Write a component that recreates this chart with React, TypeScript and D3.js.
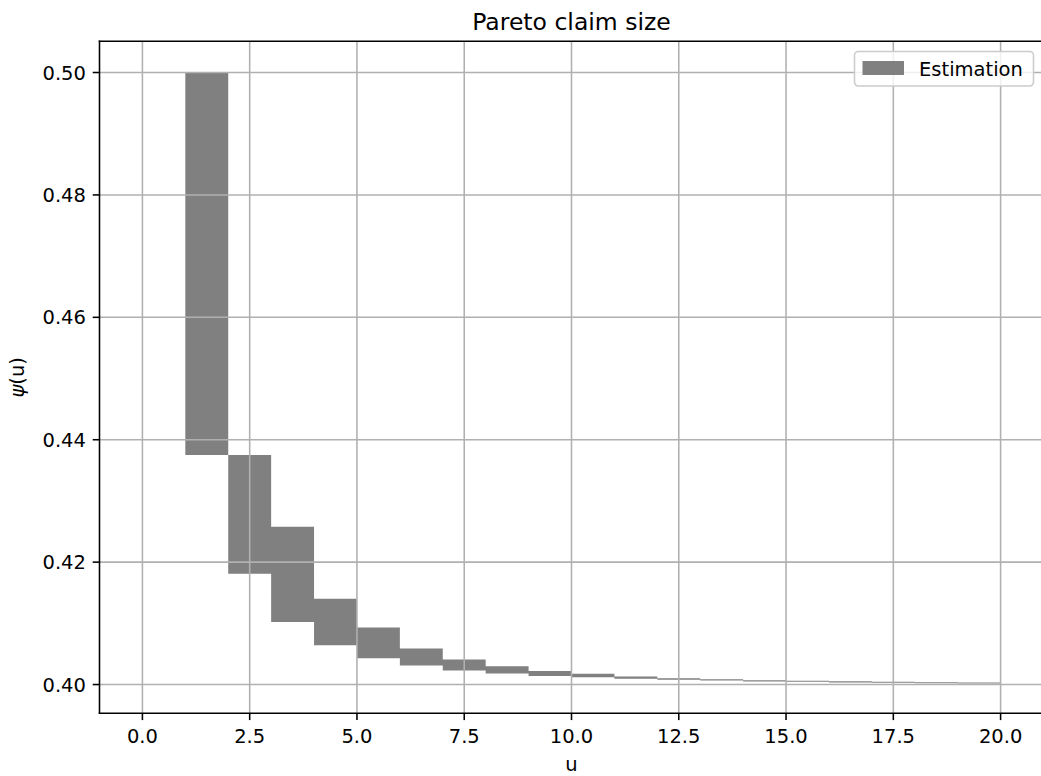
import React from "react";
import * as d3 from "d3";

const binStarts = [1, 2, 3, 4, 5, 6, 7, 8, 9, 10, 11, 12, 13, 14, 15, 16, 17, 18, 19];
const upperBound = [0.5, 0.4375, 0.4258, 0.414, 0.4093, 0.4059, 0.4041, 0.403, 0.4022, 0.40175, 0.4013, 0.40103, 0.40087, 0.4007, 0.4006, 0.40054, 0.40044, 0.40038, 0.40033];
const lowerBound = [0.4375, 0.4181, 0.4102, 0.4064, 0.4043, 0.4031, 0.4023, 0.4018, 0.4014, 0.4012, 0.40093, 0.40077, 0.40065, 0.40049, 0.40044, 0.40033, 0.40028, 0.40021, 0.40016];
const xEnd = 20;
const xTicks = [0, 2.5, 5, 7.5, 10, 12.5, 15, 17.5, 20];
const yTicks = [0.4, 0.42, 0.44, 0.46, 0.48, 0.5];
const title = "Pareto claim size";
const xLabel = "u";
const yLabelSymbol = "ψ";
const yLabelRest = "(u)";
const legendLabel = "Estimation";

const W = 1041;
const H = 776;
const FONT = "DejaVu Sans, sans-serif";
const FS = 19.5;

export default function App() {
  const left = 99.5, right = 1043.5, top = 41.3, bottom = 713.3;
  const x = d3.scaleLinear().domain([-1, 21]).range([left, right]);
  const y = d3.scaleLinear().domain([0.3953, 0.5051]).range([bottom, top]);

  const pts = binStarts.map((b, i) => ({ x: b, lo: lowerBound[i], hi: upperBound[i] }));
  const last = pts[pts.length - 1];
  pts.push({ x: xEnd, lo: last.lo, hi: last.hi });

  const area = d3
    .area<{ x: number; lo: number; hi: number }>()
    .x((d) => x(d.x))
    .y0((d) => y(d.lo))
    .y1((d) => y(d.hi))
    .curve(d3.curveStepAfter);

  const tickLen = 6.8;
  const grid = "#b0b0b0";

  return (
    <svg width={W} height={H} style={{ position: "absolute", left: 0, top: 0 }} fontFamily={FONT}>
      <rect x={0} y={0} width={W} height={H} fill="white" />
      <path d={area(pts) || ""} fill="#808080" stroke="none" />
      {xTicks.map((t) => (
        <line key={"gx" + t} x1={x(t)} x2={x(t)} y1={top} y2={bottom} stroke={grid} strokeWidth={1.56} />
      ))}
      {yTicks.map((t) => (
        <line key={"gy" + t} x1={left} x2={right} y1={y(t)} y2={y(t)} stroke={grid} strokeWidth={1.56} />
      ))}
      {/* spines */}
      <line x1={left} x2={left} y1={top} y2={bottom} stroke="black" strokeWidth={1.56} strokeLinecap="square" />
      <line x1={left} x2={right} y1={bottom} y2={bottom} stroke="black" strokeWidth={1.56} strokeLinecap="square" />
      <line x1={left} x2={right} y1={top} y2={top} stroke="black" strokeWidth={1.56} strokeLinecap="square" />
      <line x1={right} x2={right} y1={top} y2={bottom} stroke="black" strokeWidth={1.56} />
      {/* x ticks */}
      {xTicks.map((t) => (
        <g key={"xt" + t}>
          <line x1={x(t)} x2={x(t)} y1={bottom} y2={bottom + tickLen} stroke="black" strokeWidth={1.56} />
          <text x={x(t)} y={742.5} textAnchor="middle" fontSize={FS} fill="black">
            {t.toFixed(1)}
          </text>
        </g>
      ))}
      {/* y ticks */}
      {yTicks.map((t) => (
        <g key={"yt" + t}>
          <line x1={left - tickLen} x2={left} y1={y(t)} y2={y(t)} stroke="black" strokeWidth={1.56} />
          <text x={left - tickLen - 6.8} y={y(t)} dy="0.36em" textAnchor="end" fontSize={FS} fill="black">
            {t.toFixed(2)}
          </text>
        </g>
      ))}
      <text x={(left + right) / 2} y={29.5} textAnchor="middle" fontSize={23.5} fill="black">
        {title}
      </text>
      <text x={(left + right) / 2} y={770.5} textAnchor="middle" fontSize={FS} fill="black">
        {xLabel}
      </text>
      <text
        transform={`translate(${24},${(top + bottom) / 2}) rotate(-90)`}
        textAnchor="middle"
        fontSize={FS}
        fill="black"
      >
        <tspan fontStyle="italic">{yLabelSymbol}</tspan>
        <tspan>{yLabelRest}</tspan>
      </text>
      {/* legend */}
      <rect x={854.5} y={51.5} width={179} height={34.5} rx={3.9} fill="white" fillOpacity={0.8} stroke="#cccccc" strokeWidth={1.56} />
      <rect x={862.5} y={61} width={41.5} height={14} fill="#808080" />
      <text x={919} y={75.5} fontSize={FS} fill="black">
        {legendLabel}
      </text>
    </svg>
  );
}
